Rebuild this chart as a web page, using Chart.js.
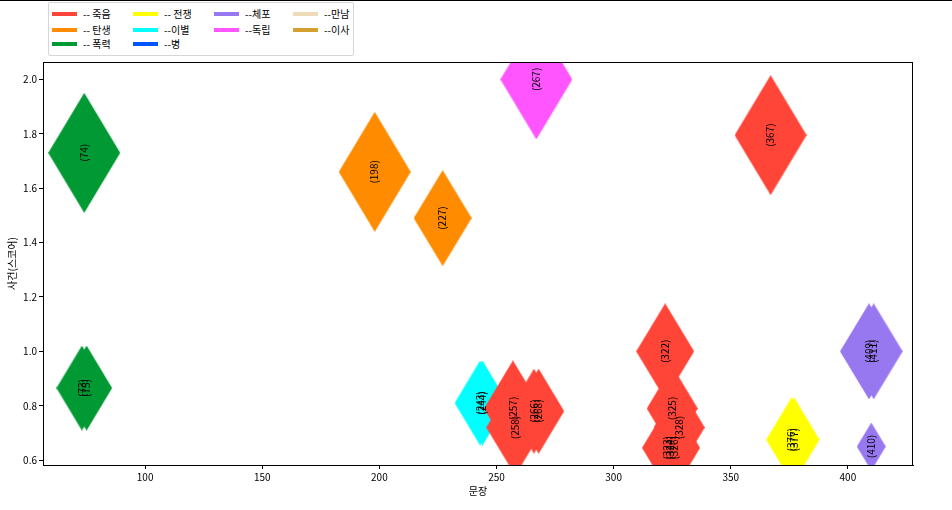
<!DOCTYPE html>
<html>
<head>
<meta charset="utf-8">
<script src="https://cdn.jsdelivr.net/npm/chart.js@4"></script>
<style>
html, body { margin: 0; padding: 0; background: #fff; }
#marco { position: relative; width: 952px; height: 510px; overflow: hidden; }
#raya { position: absolute; left: 0; top: 0; width: 952px; height: 1px; background: #000; z-index: 3; }
#grafico { position: absolute; left: 0; top: 0; }
#leyenda { position: absolute; left: 48px; top: 2px; width: 304px; height: 52px; border: 1px solid #d6d6d6;
  border-radius: 2px; background: #fff; font: 10px 'Noto Sans CJK KR', sans-serif; color: #000; z-index: 2; }
.item { position: absolute; height: 14px; line-height: 14px; white-space: nowrap; }
.linea { display: inline-block; width: 25px; height: 4px; vertical-align: middle; margin-right: 6px; margin-top: -2px; }
</style>
</head>
<body>
<div id="marco">
  <div id="raya"></div>
  <canvas id="grafico" width="952" height="510"></canvas>
  <div id="leyenda"></div>
</div>
<script>
/* ── DATOS ── */
/* Tipos de suceso, en el orden de la leyenda (por columnas) */
var categorias = ['죽음', '탄생', '폭력', '전쟁', '이별', '병', '체포', '독립', '만남', '이사'];
var etiquetasLeyenda = ['-- 죽음', '-- 탄생', '-- 폭력', '-- 전쟁', '--이별', '--병', '--체포', '--독립', '--만남', '--이사'];
var colores = ['#ff4538', '#ff8c00', '#009933', '#ffff00', '#00ffff', '#0055ff', '#9878f0', '#ff55ff', '#eedcb8', '#d4a030'];

/* Cada punto: número de frase, puntuación, tipo (índice en categorias) y peso */
var frases = [74, 73, 75, 198, 227, 267, 367, 322, 325, 328, 323, 324, 326, 257, 258, 266, 268, 243, 244, 376, 377, 409, 411, 410];
var puntuaciones = [1.73, 0.865, 0.865, 1.66, 1.49, 2.0, 1.795, 1.0, 0.79, 0.72, 0.645, 0.645, 0.645, 0.79, 0.72, 0.78, 0.78, 0.81, 0.81, 0.675, 0.675, 1.0, 1.0, 0.65];
var tipos = [2, 2, 2, 1, 1, 7, 0, 0, 0, 0, 0, 0, 0, 0, 0, 0, 0, 4, 4, 3, 3, 6, 6, 6];
var pesos = [25, 12.5, 12.5, 25, 16, 25, 25, 16, 12.5, 12.5, 12.5, 12.5, 12.5, 16, 16, 12.5, 12.5, 12.5, 12.5, 12.5, 12.5, 16, 16, 4];

/* Marcas de los ejes */
var ticksX = [100, 150, 200, 250, 300, 350, 400];
var ticksY = [0.6, 0.8, 1.0, 1.2, 1.4, 1.6, 1.8, 2.0];

var FUENTE = "'Noto Sans CJK KR', sans-serif";

/* ── LEYENDA HTML (4 columnas de 3, 3, 2 y 2 entradas) ── */
function crearLeyenda() {
    var caja = document.getElementById('leyenda');
    var columnas = [3, 84, 165, 244];
    var filas = [4, 20, 34];
    var colDe = [0, 0, 0, 1, 1, 1, 2, 2, 3, 3];
    var filaDe = [0, 1, 2, 0, 1, 2, 0, 1, 0, 1];
    for (var i = 0; i < categorias.length; i++) {
        var div = document.createElement('div');
        div.className = 'item';
        div.style.left = columnas[colDe[i]] + 'px';
        div.style.top = filas[filaDe[i]] + 'px';
        div.innerHTML = '<span class="linea" style="background:' + colores[i] + '"></span>' + etiquetasLeyenda[i];
        caja.appendChild(div);
    }
}

/* ── ROMBOS FINOS (como el marcador 'd' de matplotlib) ── */
var cacheRombos = {};
function altoRombo(peso) { return 24 * Math.sqrt(peso); }
function rombo(color, alto) {
    var clave = color + alto;
    if (cacheRombos[clave]) return cacheRombos[clave];
    var ancho = alto * 0.6;
    var c = document.createElement('canvas');
    c.width = Math.round(ancho);
    c.height = Math.round(alto);
    var g = c.getContext('2d');
    g.fillStyle = color;
    g.beginPath();
    g.moveTo(c.width / 2, 0);
    g.lineTo(c.width, c.height / 2);
    g.lineTo(c.width / 2, c.height);
    g.lineTo(0, c.height / 2);
    g.closePath();
    g.fill();
    cacheRombos[clave] = c;
    return c;
}

/* ── PLUGIN: número de frase girado encima de cada rombo ── */
var pluginEtiquetas = {
    id: 'etiquetas',
    afterDatasetsDraw: function(chart) {
        var ctx = chart.ctx;
        ctx.save();
        ctx.font = '10px ' + FUENTE;
        ctx.fillStyle = '#000';
        ctx.textAlign = 'center';
        ctx.textBaseline = 'middle';
        chart.data.datasets.forEach(function(ds, i) {
            chart.getDatasetMeta(i).data.forEach(function(el, j) {
                ctx.save();
                ctx.translate(el.x, el.y);
                ctx.rotate(-Math.PI / 2);
                ctx.fillText('(' + ds.data[j].x + ')', 0, 0);
                ctx.restore();
            });
        });
        ctx.restore();
    }
};

/* ── PLUGIN: marco completo alrededor del área de dibujo ── */
var pluginMarco = {
    id: 'marco',
    afterDraw: function(chart) {
        var a = chart.chartArea, ctx = chart.ctx;
        ctx.save();
        ctx.strokeStyle = '#000';
        ctx.lineWidth = 1;
        ctx.strokeRect(Math.round(a.left) + 0.5, Math.round(a.top) + 0.5, Math.round(a.right - a.left) - 1, Math.round(a.bottom - a.top));
        ctx.restore();
    }
};

function crearGrafico() {
    var datasets = categorias.map(function(nombre, c) {
        var puntos = [];
        for (var i = 0; i < frases.length; i++) {
            if (tipos[i] === c) puntos.push({ x: frases[i], y: puntuaciones[i], w: pesos[i] });
        }
        return {
            label: nombre,
            data: puntos,
            pointStyle: function(ctx) {
                var w = ctx.raw ? ctx.raw.w : 4;
                return rombo(colores[ctx.datasetIndex], altoRombo(w));
            },
            pointRadius: function(ctx) { return ctx.raw ? altoRombo(ctx.raw.w) / 2 : 3; },
            backgroundColor: colores[c],
            borderColor: colores[c]
        };
    });

    new Chart(document.getElementById('grafico'), {
        type: 'scatter',
        data: { datasets: datasets },
        options: {
            responsive: false,
            animation: false,
            events: [],
            layout: { autoPadding: false, padding: { top: 62, right: 39, left: 0, bottom: 0 } },
            plugins: { legend: { display: false }, tooltip: { enabled: false } },
            scales: {
                x: {
                    min: 56.4, max: 427.8,
                    afterBuildTicks: function(s) { s.ticks = ticksX.map(function(v) { return { value: v }; }); },
                    afterFit: function(s) { s.height = 45; },
                    grid: { drawOnChartArea: false, drawTicks: true, tickLength: 4, color: '#000' },
                    border: { display: true, color: '#000' },
                    ticks: { color: '#000', font: { family: FUENTE, size: 10 }, padding: 2, maxRotation: 0 },
                    title: { display: true, text: '문장', color: '#000', font: { family: FUENTE, size: 10 }, padding: { top: 0, bottom: 13 } }
                },
                y: {
                    min: 0.582, max: 2.064,
                    afterBuildTicks: function(s) { s.ticks = ticksY.map(function(v) { return { value: v }; }); },
                    afterFit: function(s) { s.width = 43; },
                    grid: { drawOnChartArea: false, drawTicks: true, tickLength: 4, color: '#000' },
                    border: { display: true, color: '#000' },
                    ticks: { color: '#000', font: { family: FUENTE, size: 10 }, padding: 2,
                        callback: function(v) { return Number(v).toFixed(1); } },
                    title: { display: true, text: '사건(스코어)', color: '#000', font: { family: FUENTE, size: 10 }, padding: { top: 6, bottom: 0 } }
                }
            }
        },
        plugins: [pluginEtiquetas, pluginMarco]
    });
}

crearLeyenda();
crearGrafico();
</script>
</body>
</html>
